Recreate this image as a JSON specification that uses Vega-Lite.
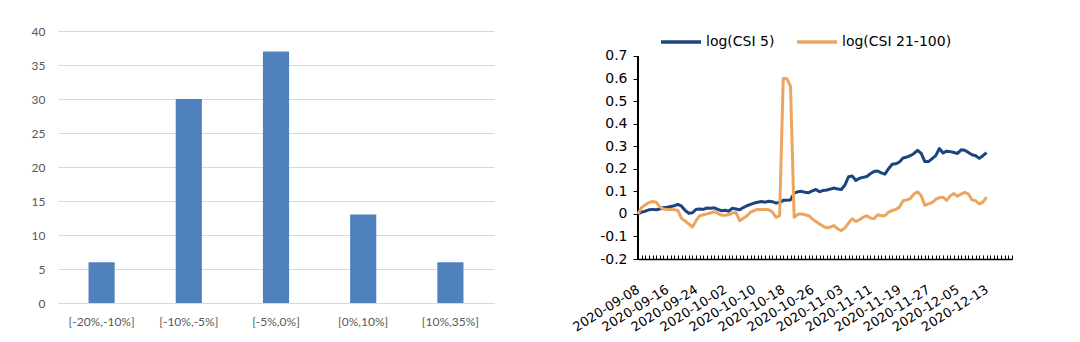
{
  "$schema": "https://vega.github.io/schema/vega-lite/v6.json",
  "background": "white",
  "padding": {"left": 31, "top": 20, "right": 5, "bottom": 5},
  "config": {"view": {"stroke": null}},
  "spacing": 76,
  "resolve": {"scale": {"color": "independent"}, "legend": {"color": "independent"}},
  "datasets": {
    "bars": [
      {"bin": "[-20%,-10%]", "count": 6},
      {"bin": "[-10%,-5%]", "count": 30},
      {"bin": "[-5%,0%]", "count": 37},
      {"bin": "[0%,10%]", "count": 13},
      {"bin": "[10%,35%]", "count": 6}
    ],
    "lines": [
      {"d": "2020-09-08", "a": 0.000, "b": 0.000},
      {"d": "2020-09-09", "a": 0.008, "b": 0.028},
      {"d": "2020-09-10", "a": 0.012, "b": 0.040},
      {"d": "2020-09-11", "a": 0.018, "b": 0.050},
      {"d": "2020-09-12", "a": 0.020, "b": 0.055},
      {"d": "2020-09-13", "a": 0.018, "b": 0.052},
      {"d": "2020-09-14", "a": 0.022, "b": 0.032},
      {"d": "2020-09-15", "a": 0.028, "b": 0.022},
      {"d": "2020-09-16", "a": 0.030, "b": 0.020},
      {"d": "2020-09-17", "a": 0.033, "b": 0.020},
      {"d": "2020-09-18", "a": 0.036, "b": 0.018},
      {"d": "2020-09-19", "a": 0.042, "b": 0.015},
      {"d": "2020-09-20", "a": 0.034, "b": -0.020},
      {"d": "2020-09-21", "a": 0.015, "b": -0.032},
      {"d": "2020-09-22", "a": 0.003, "b": -0.045},
      {"d": "2020-09-23", "a": 0.005, "b": -0.058},
      {"d": "2020-09-24", "a": 0.020, "b": -0.030},
      {"d": "2020-09-25", "a": 0.022, "b": -0.008},
      {"d": "2020-09-26", "a": 0.020, "b": -0.004},
      {"d": "2020-09-27", "a": 0.026, "b": 0.000},
      {"d": "2020-09-28", "a": 0.025, "b": 0.004},
      {"d": "2020-09-29", "a": 0.027, "b": 0.010},
      {"d": "2020-09-30", "a": 0.020, "b": 0.002},
      {"d": "2020-10-01", "a": 0.014, "b": -0.006},
      {"d": "2020-10-02", "a": 0.016, "b": -0.006},
      {"d": "2020-10-03", "a": 0.012, "b": -0.004},
      {"d": "2020-10-04", "a": 0.025, "b": 0.004},
      {"d": "2020-10-05", "a": 0.022, "b": 0.006},
      {"d": "2020-10-06", "a": 0.018, "b": -0.030},
      {"d": "2020-10-07", "a": 0.028, "b": -0.020},
      {"d": "2020-10-08", "a": 0.036, "b": -0.008},
      {"d": "2020-10-09", "a": 0.042, "b": 0.008},
      {"d": "2020-10-10", "a": 0.048, "b": 0.015},
      {"d": "2020-10-11", "a": 0.052, "b": 0.020},
      {"d": "2020-10-12", "a": 0.055, "b": 0.020},
      {"d": "2020-10-13", "a": 0.052, "b": 0.020},
      {"d": "2020-10-14", "a": 0.056, "b": 0.018},
      {"d": "2020-10-15", "a": 0.054, "b": 0.008},
      {"d": "2020-10-16", "a": 0.048, "b": -0.015},
      {"d": "2020-10-17", "a": 0.050, "b": -0.008},
      {"d": "2020-10-18", "a": 0.060, "b": 0.600},
      {"d": "2020-10-19", "a": 0.060, "b": 0.600},
      {"d": "2020-10-20", "a": 0.062, "b": 0.565},
      {"d": "2020-10-21", "a": 0.092, "b": -0.015},
      {"d": "2020-10-22", "a": 0.098, "b": -0.002},
      {"d": "2020-10-23", "a": 0.100, "b": 0.000},
      {"d": "2020-10-24", "a": 0.096, "b": -0.004},
      {"d": "2020-10-25", "a": 0.094, "b": -0.008},
      {"d": "2020-10-26", "a": 0.102, "b": -0.022},
      {"d": "2020-10-27", "a": 0.108, "b": -0.034},
      {"d": "2020-10-28", "a": 0.098, "b": -0.045},
      {"d": "2020-10-29", "a": 0.104, "b": -0.055},
      {"d": "2020-10-30", "a": 0.106, "b": -0.062},
      {"d": "2020-10-31", "a": 0.110, "b": -0.058},
      {"d": "2020-11-01", "a": 0.115, "b": -0.052},
      {"d": "2020-11-02", "a": 0.110, "b": -0.066},
      {"d": "2020-11-03", "a": 0.108, "b": -0.074},
      {"d": "2020-11-04", "a": 0.128, "b": -0.062},
      {"d": "2020-11-05", "a": 0.165, "b": -0.040},
      {"d": "2020-11-06", "a": 0.168, "b": -0.022},
      {"d": "2020-11-07", "a": 0.148, "b": -0.034},
      {"d": "2020-11-08", "a": 0.158, "b": -0.026},
      {"d": "2020-11-09", "a": 0.162, "b": -0.015},
      {"d": "2020-11-10", "a": 0.166, "b": -0.008},
      {"d": "2020-11-11", "a": 0.178, "b": -0.018},
      {"d": "2020-11-12", "a": 0.188, "b": -0.022},
      {"d": "2020-11-13", "a": 0.190, "b": -0.004},
      {"d": "2020-11-14", "a": 0.182, "b": -0.008},
      {"d": "2020-11-15", "a": 0.176, "b": -0.008},
      {"d": "2020-11-16", "a": 0.200, "b": 0.008},
      {"d": "2020-11-17", "a": 0.220, "b": 0.015},
      {"d": "2020-11-18", "a": 0.222, "b": 0.020},
      {"d": "2020-11-19", "a": 0.230, "b": 0.030},
      {"d": "2020-11-20", "a": 0.248, "b": 0.058},
      {"d": "2020-11-21", "a": 0.252, "b": 0.062},
      {"d": "2020-11-22", "a": 0.258, "b": 0.068},
      {"d": "2020-11-23", "a": 0.268, "b": 0.088},
      {"d": "2020-11-24", "a": 0.282, "b": 0.098},
      {"d": "2020-11-25", "a": 0.268, "b": 0.080},
      {"d": "2020-11-26", "a": 0.232, "b": 0.038},
      {"d": "2020-11-27", "a": 0.232, "b": 0.044},
      {"d": "2020-11-28", "a": 0.245, "b": 0.050},
      {"d": "2020-11-29", "a": 0.258, "b": 0.064},
      {"d": "2020-11-30", "a": 0.290, "b": 0.072},
      {"d": "2020-12-01", "a": 0.270, "b": 0.074},
      {"d": "2020-12-02", "a": 0.278, "b": 0.060},
      {"d": "2020-12-03", "a": 0.276, "b": 0.080},
      {"d": "2020-12-04", "a": 0.272, "b": 0.090},
      {"d": "2020-12-05", "a": 0.268, "b": 0.078},
      {"d": "2020-12-06", "a": 0.284, "b": 0.088},
      {"d": "2020-12-07", "a": 0.282, "b": 0.096},
      {"d": "2020-12-08", "a": 0.272, "b": 0.088},
      {"d": "2020-12-09", "a": 0.262, "b": 0.062},
      {"d": "2020-12-10", "a": 0.258, "b": 0.058},
      {"d": "2020-12-11", "a": 0.246, "b": 0.044},
      {"d": "2020-12-12", "a": 0.258, "b": 0.052},
      {"d": "2020-12-13", "a": 0.272, "b": 0.074}
    ]
  },
  "hconcat": [
    {
      "width": 436,
      "height": 272,
      "data": {"name": "bars"},
      "mark": {"type": "bar", "color": "#4F81BD"},
      "encoding": {
        "x": {
          "field": "bin", "type": "nominal", "sort": null,
          "scale": {"paddingInner": 0.7, "paddingOuter": 0.35},
          "axis": {
            "title": null, "labelAngle": 0, "ticks": false,
            "domainColor": "#D9D9D9", "domainWidth": 1,
            "labelFont": "Lato", "labelFontSize": 12, "labelColor": "#595959",
            "labelPadding": 13
          }
        },
        "y": {
          "field": "count", "type": "quantitative",
          "scale": {"domain": [0, 40], "nice": false},
          "axis": {
            "title": null, "values": [0, 5, 10, 15, 20, 25, 30, 35, 40],
            "domain": false, "ticks": false,
            "gridColor": "#D9D9D9", "gridWidth": 1,
            "labelFont": "Lato", "labelFontSize": 12, "labelColor": "#595959",
            "labelPadding": 13
          }
        }
      }
    },
    {
      "width": 374,
      "height": 228,
      "data": {"name": "lines"},
      "layer": [
        {
          "mark": {"type": "rule", "color": "#000", "strokeWidth": 1.5},
          "encoding": {
            "x": {"datum": {"year": 2020, "month": 9, "date": 8, "utc": true}, "type": "temporal"},
            "y": {
              "datum": -0.2, "type": "quantitative",
              "axis": {
                "title": null, "grid": false, "domain": false,
                "values": [-0.2, -0.1, 0, 0.1, 0.2, 0.3, 0.4, 0.5, 0.6, 0.7],
                "ticks": true, "tickColor": "#000", "tickSize": 5, "tickWidth": 1, "labelPadding": 6,
                "labelFont": "DejaVu Sans", "labelFontSize": 14, "labelColor": "#000",
                "labelOverlap": false, "labelFlush": false,
                "labelExpr": "datum.value < 0 ? '-' + format(-datum.value, '.1~f') : format(datum.value, '.1~f')"
              }
            },
            "y2": {"datum": 0.7}
          }
        },
        {
          "transform": [{"fold": ["a", "b"], "as": ["series", "v"]}],
          "mark": {"type": "line", "strokeWidth": 3, "strokeJoin": "round"},
          "encoding": {
            "x": {
              "field": "d", "type": "temporal",
              "scale": {"type": "utc", "nice": false, "domain": [
                {"year": 2020, "month": 9, "date": 8, "utc": true},
                {"year": 2020, "month": 12, "date": 20, "utc": true}
              ]},
              "axis": {
                "title": null, "grid": false,
                "tickCount": {"interval": "day", "step": 1},
                "tickSize": -4, "tickColor": "#000", "tickWidth": 1,
                "domainColor": "#000", "domainWidth": 1.5,
                "labelAngle": -32, "labelAlign": "right", "labelBaseline": "middle",
                "labelPadding": 33, "labelFont": "DejaVu Sans", "labelFontSize": 13,
                "labelColor": "#000", "labelOverlap": false, "labelFlush": false, "labelBound": false,
                "labelExpr": "((datum.value - utc(2020, 8, 8)) / 86400000) % 8 === 0 ? utcFormat(datum.value, '%Y-%m-%d') : ''"
              }
            },
            "y": {
              "field": "v", "type": "quantitative",
              "scale": {"domain": [-0.2, 0.8108], "nice": false, "zero": false},
              "axis": {
                "title": null, "grid": false, "domain": false,
                "values": [-0.2, -0.1, 0, 0.1, 0.2, 0.3, 0.4, 0.5, 0.6, 0.7],
                "ticks": true, "tickColor": "#000", "tickSize": 5, "tickWidth": 1, "labelPadding": 6,
                "labelFont": "DejaVu Sans", "labelFontSize": 14, "labelColor": "#000",
                "labelOverlap": false, "labelFlush": false,
                "labelExpr": "datum.value < 0 ? '-' + format(-datum.value, '.1~f') : format(datum.value, '.1~f')"
              }
            },
            "color": {
              "field": "series", "type": "nominal",
              "scale": {"domain": ["a", "b"], "range": ["#1A4580", "#EBA55F"]},
              "legend": {
                "title": null, "orient": "none", "legendX": 21, "legendY": -11,
                "direction": "horizontal", "padding": 0,
                "labelFont": "DejaVu Sans", "labelFontSize": 14, "labelColor": "#000",
                "symbolType": "stroke", "symbolSize": 1600, "symbolStrokeWidth": 3.5,
                "labelOffset": 3, "columnPadding": 15,
                "labelExpr": "datum.label == 'a' ? 'log(CSI 5)' : 'log(CSI 21-100)'"
              }
            }
          }
        }
      ]
    }
  ]
}
